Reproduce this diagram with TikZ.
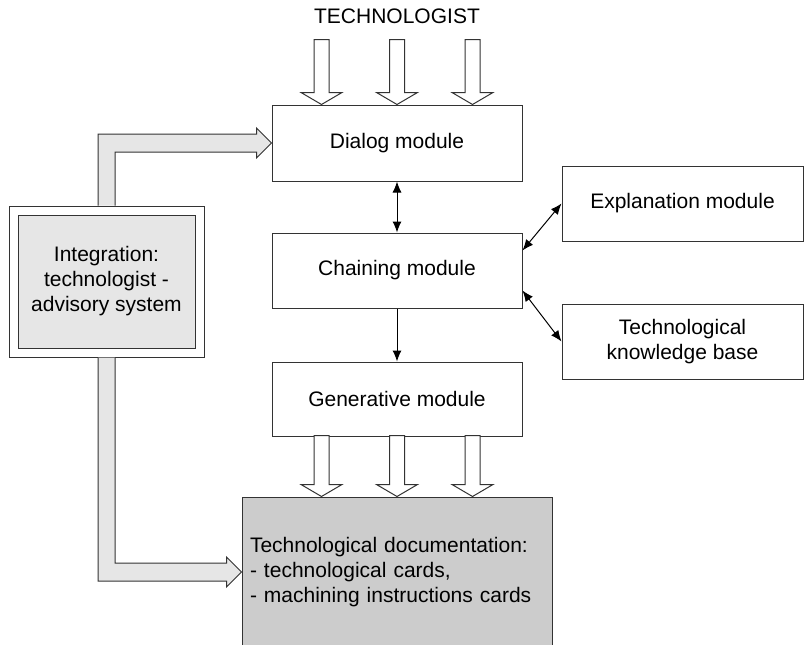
\documentclass[tikz,border=0pt]{standalone}
\usepackage{fontspec}
\setmainfont{Liberation Sans}
\usetikzlibrary{arrows.meta,calc}
\definecolor{lightfill}{HTML}{E6E6E6}
\definecolor{docfill}{HTML}{CCCCCC}
\definecolor{edge}{HTML}{333333}
% hollow block arrow pointing down: #1 tip point, #2 total length
\newcommand\fatdown[2]{%
  \draw[fat] ($#1+(-7.5,-#2)$) -- ($#1+(-7.5,-12)$) -- ($#1+(-20.5,-12)$) -- #1
    -- ($#1+(20.5,-12)$) -- ($#1+(7.5,-12)$) -- ($#1+(7.5,-#2)$) -- cycle;}
\begin{document}
\begin{tikzpicture}[x=1pt,y=-1pt,
  txt/.style={font=\fontsize{21}{25}\selectfont},
  box/.style={draw=edge,line width=1pt,fill=white,inner sep=0pt,align=center,txt},
  fat/.style={draw=edge,line width=1pt,fill=#1,line join=miter},
  fat/.default=white,
  link/.style={line width=1pt,{Latex[length=11pt,width=9pt]}-{Latex[length=11pt,width=9pt]}},
  onelink/.style={line width=1pt,-{Latex[length=11pt,width=9pt]}},
]
\clip (0,0) rectangle (804,645);

% source label
\node[txt] (tech) at (397,16) {TECHNOLOGIST};

% main chain of modules
\node[box,minimum width=250,minimum height=76] (dlg) at (397,143) {Dialog module};
\node[box,minimum width=250,minimum height=75] (chain) at (397,270.5) {Chaining module};
\node[box,minimum width=250,minimum height=74] (gen) at (397,399) {Generative module};

% side modules
\node[box,minimum width=241,minimum height=75] (expl) at (682.5,203.5) {Explanation module};
\node[box,minimum width=241,minimum height=75] (kb) at (682.5,341.5) {Technological\\knowledge base};

% output documentation
\node[box,fill=docfill,inner xsep=8pt,text width=294pt,minimum height=150,align=left] (doc) at (397,572)
  {Technological documentation:\\- technological cards,\\- machining instructions cards};

% integration block (double frame)
\node[box,minimum width=195,minimum height=151] (integ) at (106.5,281.5) {};
\node[box,fill=lightfill,minimum width=177,minimum height=133] (integin) at (integ.center)
  {Integration:\\technologist -\\advisory system};

% thin connectors
\draw[link] (dlg.south) -- (chain.north);
\draw[onelink] (chain.south) -- (gen.north);
\draw[link] ($(chain.east)+(0,-20)$) -- (expl.west);
\draw[link] ($(chain.east)+(0,20)$) -- (kb.west);

% inputs from the technologist
\coordinate (ti1) at ($(dlg.north)+(-75.5,0)$);
\coordinate (ti2) at (dlg.north);
\coordinate (ti3) at ($(dlg.north)+(75.5,0)$);
\fatdown{(ti1)}{65}
\fatdown{(ti2)}{65}
\fatdown{(ti3)}{65}

% outputs to the documentation
\coordinate (to1) at ($(doc.north)+(-75.5,0)$);
\coordinate (to2) at (doc.north);
\coordinate (to3) at ($(doc.north)+(75.5,0)$);
\fatdown{(to1)}{61}
\fatdown{(to2)}{61}
\fatdown{(to3)}{61}

% integration links
\draw[fat=lightfill] ($(integ.north)+(-8.5,0)$) |- ($(dlg.west)+(-15,-9)$) -- ++(0,-6)
  -- (dlg.west) -- ++(-15,15) -- ++(0,-6) -| ($(integ.north)+(8.5,0)$);
\draw[fat=lightfill] ($(integ.south)+(-8.5,0)$) |- ($(doc.west)+(-15,9)$) -- ++(0,6)
  -- (doc.west) -- ++(-15,-15) -- ++(0,6) -| ($(integ.south)+(8.5,0)$);
\end{tikzpicture}
\end{document}
